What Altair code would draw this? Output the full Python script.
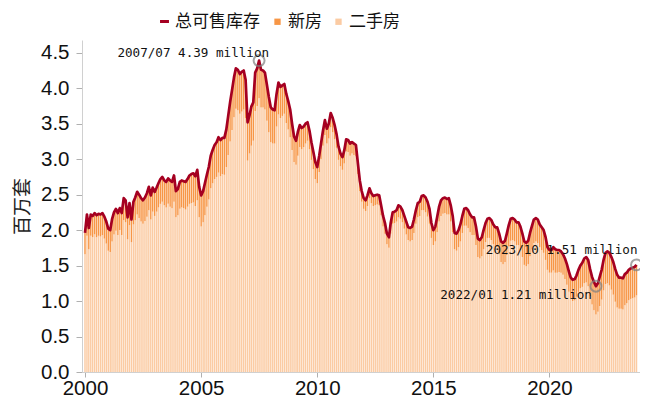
import altair as alt
import pandas as pd

# ---- data (millions of units), monthly 2000/01 - 2023/10 ----
total_by_year = {
    2000: [1.96, 2.22, 2.03, 2.22, 2.20, 2.24, 2.21, 2.23, 2.22, 2.24, 2.19, 2.12],
    2001: [2.02, 2.00, 2.15, 2.25, 2.30, 2.24, 2.31, 2.24, 2.45, 2.42, 2.18, 2.38],
    2002: [2.15, 2.40, 2.46, 2.54, 2.50, 2.45, 2.42, 2.46, 2.52, 2.61, 2.49, 2.60],
    2003: [2.54, 2.60, 2.66, 2.72, 2.75, 2.70, 2.68, 2.73, 2.70, 2.68, 2.77, 2.55],
    2004: [2.58, 2.68, 2.70, 2.69, 2.68, 2.72, 2.77, 2.79, 2.80, 2.76, 2.85, 2.61],
    2005: [2.49, 2.55, 2.66, 2.78, 2.89, 3.05, 3.13, 3.20, 3.24, 3.31, 3.27, 3.30],
    2006: [3.30, 3.42, 3.60, 3.80, 3.97, 4.15, 4.28, 4.26, 4.20, 4.23, 4.25, 4.12],
    2007: [3.52, 3.62, 3.74, 3.80, 4.22, 4.28, 4.39, 4.26, 4.25, 4.22, 4.05, 3.88],
    2008: [3.73, 3.70, 3.69, 3.92, 4.08, 4.02, 4.04, 4.06, 3.92, 3.82, 3.70, 3.50],
    2009: [3.32, 3.26, 3.38, 3.48, 3.44, 3.46, 3.50, 3.52, 3.40, 3.24, 3.10, 2.96],
    2010: [2.89, 3.05, 3.22, 3.40, 3.55, 3.43, 3.50, 3.65, 3.58, 3.48, 3.35, 3.18],
    2011: [3.08, 3.03, 3.12, 3.28, 3.27, 3.22, 3.24, 3.22, 3.20, 2.95, 2.70, 2.55],
    2012: [2.45, 2.42, 2.49, 2.59, 2.52, 2.48, 2.49, 2.50, 2.49, 2.35, 2.20, 2.10],
    2013: [1.95, 1.90, 2.10, 2.25, 2.26, 2.28, 2.35, 2.33, 2.28, 2.20, 2.12, 2.04],
    2014: [2.03, 2.05, 2.15, 2.28, 2.38, 2.40, 2.48, 2.49, 2.46, 2.40, 2.30, 2.10],
    2015: [2.00, 2.05, 2.18, 2.33, 2.42, 2.45, 2.46, 2.44, 2.45, 2.35, 2.20, 1.96],
    2016: [1.95, 2.00, 2.08, 2.20, 2.30, 2.31, 2.28, 2.22, 2.18, 2.18, 2.05, 1.88],
    2017: [1.86, 1.90, 2.00, 2.10, 2.16, 2.17, 2.14, 2.08, 2.04, 2.04, 1.95, 1.84],
    2018: [1.82, 1.85, 1.95, 2.07, 2.16, 2.17, 2.15, 2.11, 2.11, 2.05, 1.95, 1.84],
    2019: [1.82, 1.85, 1.96, 2.06, 2.15, 2.17, 2.15, 2.08, 2.04, 2.00, 1.90, 1.76],
    2020: [1.72, 1.72, 1.76, 1.73, 1.72, 1.72, 1.70, 1.66, 1.60, 1.52, 1.42, 1.33],
    2021: [1.30, 1.31, 1.36, 1.44, 1.50, 1.54, 1.60, 1.62, 1.58, 1.45, 1.34, 1.27],
    2022: [1.21, 1.25, 1.34, 1.44, 1.58, 1.68, 1.70, 1.68, 1.62, 1.55, 1.45, 1.37],
    2023: [1.33, 1.33, 1.32, 1.38, 1.40, 1.44, 1.46, 1.47, 1.48, 1.51],
}

new_by_year = {
    2000: [0.30, 0.30, 0.30, 0.30, 0.30, 0.30, 0.31, 0.31, 0.31, 0.31, 0.31, 0.31],
    2001: [0.31, 0.31, 0.31, 0.31, 0.31, 0.31, 0.31, 0.31, 0.31, 0.31, 0.31, 0.31],
    2002: [0.32, 0.32, 0.32, 0.32, 0.33, 0.33, 0.33, 0.33, 0.33, 0.33, 0.34, 0.34],
    2003: [0.34, 0.34, 0.34, 0.35, 0.35, 0.35, 0.36, 0.36, 0.37, 0.37, 0.37, 0.37],
    2004: [0.37, 0.38, 0.38, 0.38, 0.39, 0.39, 0.40, 0.41, 0.41, 0.42, 0.43, 0.43],
    2005: [0.44, 0.44, 0.45, 0.45, 0.46, 0.46, 0.47, 0.48, 0.49, 0.50, 0.51, 0.51],
    2006: [0.52, 0.53, 0.54, 0.55, 0.56, 0.56, 0.57, 0.57, 0.56, 0.56, 0.55, 0.54],
    2007: [0.54, 0.54, 0.55, 0.54, 0.54, 0.53, 0.53, 0.53, 0.52, 0.52, 0.51, 0.50],
    2008: [0.49, 0.48, 0.47, 0.46, 0.45, 0.44, 0.43, 0.42, 0.41, 0.40, 0.39, 0.37],
    2009: [0.36, 0.34, 0.33, 0.31, 0.30, 0.29, 0.28, 0.26, 0.26, 0.25, 0.24, 0.24],
    2010: [0.23, 0.23, 0.22, 0.21, 0.21, 0.21, 0.21, 0.20, 0.20, 0.20, 0.19, 0.19],
    2011: [0.18, 0.18, 0.18, 0.17, 0.17, 0.17, 0.16, 0.16, 0.16, 0.16, 0.15, 0.15],
    2012: [0.15, 0.15, 0.15, 0.14, 0.14, 0.14, 0.14, 0.14, 0.14, 0.14, 0.15, 0.15],
    2013: [0.15, 0.15, 0.15, 0.16, 0.16, 0.16, 0.17, 0.17, 0.17, 0.18, 0.18, 0.18],
    2014: [0.19, 0.19, 0.19, 0.19, 0.20, 0.20, 0.20, 0.21, 0.21, 0.21, 0.21, 0.21],
    2015: [0.21, 0.21, 0.21, 0.21, 0.22, 0.22, 0.22, 0.22, 0.23, 0.23, 0.23, 0.23],
    2016: [0.24, 0.24, 0.24, 0.24, 0.24, 0.25, 0.25, 0.25, 0.25, 0.25, 0.26, 0.26],
    2017: [0.26, 0.27, 0.27, 0.27, 0.27, 0.28, 0.28, 0.28, 0.28, 0.28, 0.29, 0.29],
    2018: [0.30, 0.30, 0.30, 0.30, 0.31, 0.31, 0.31, 0.32, 0.32, 0.33, 0.33, 0.33],
    2019: [0.33, 0.33, 0.33, 0.33, 0.33, 0.33, 0.33, 0.32, 0.32, 0.32, 0.32, 0.32],
    2020: [0.32, 0.32, 0.33, 0.33, 0.32, 0.31, 0.30, 0.29, 0.29, 0.29, 0.29, 0.29],
    2021: [0.30, 0.30, 0.30, 0.31, 0.32, 0.34, 0.35, 0.36, 0.37, 0.38, 0.39, 0.40],
    2022: [0.40, 0.40, 0.41, 0.42, 0.43, 0.44, 0.45, 0.46, 0.46, 0.46, 0.46, 0.46],
    2023: [0.44, 0.44, 0.44, 0.44, 0.43, 0.43, 0.43, 0.43, 0.43, 0.43],
}

ann_dates = ["2007-07-01", "2022-01-01", "2023-10-01"]
ann_values = [4.39, 1.21, 1.51]
ann_labels = ["2007/07 4.39 million", "2022/01 1.21 million", "2023/10 1.51 million"]

series_line = "总可售库存"
series_new = "新房"
series_old = "二手房"

# ---- build tables ----
total = [v for y in sorted(total_by_year) for v in total_by_year[y]]
new = [v for y in sorted(new_by_year) for v in new_by_year[y]]
dates = pd.date_range("2000-01-01", periods=len(total), freq="MS")

line_df = pd.DataFrame({"date": dates, "value": total, "series": series_line})
bars_df = pd.concat([
    pd.DataFrame({"date": dates, "value": [t - n for t, n in zip(total, new)],
                  "series": series_old, "ord": 0}),
    pd.DataFrame({"date": dates, "value": new, "series": series_new, "ord": 1}),
])
ann_df = pd.DataFrame({"date": pd.to_datetime(ann_dates), "value": ann_values,
                       "label": ann_labels})

x_scale = alt.Scale(domain=[alt.DateTime(year=1999, month=11, date=15),
                            alt.DateTime(year=2023, month=11, date=25)], padding=0)
y_scale = alt.Scale(domain=[0, 4.68], nice=False, padding=0)

x_axis = alt.Axis(
    title=None, format="%Y", grid=False,
    values=[alt.DateTime(year=y, month=1, date=1) for y in [2000, 2005, 2010, 2015, 2020]],
    labelFontSize=20.5, labelFont="Liberation Sans", labelColor="#111",
    domainColor="#d0d0d0", tickColor="#b0b0b0", tickSize=5, labelPadding=1,
    labelOverlap=False,
)
y_axis = alt.Axis(
    title="百万套", format=".1f", values=[i * 0.5 for i in range(10)], grid=False,
    labelFontSize=20.5, labelFont="Liberation Sans", labelColor="#111",
    domainColor="#d0d0d0", tickColor="#b0b0b0", tickSize=6, labelPadding=7,
    labelOverlap=False,
    titleFont="Noto Sans CJK SC", titleFontSize=19, titleFontWeight="normal",
    titleColor="#222", titlePadding=8,
)

x_enc = alt.X("date:T", scale=x_scale, axis=x_axis)
y_enc = alt.Y("value:Q", scale=y_scale, axis=y_axis)

bars = alt.Chart(bars_df).mark_bar(size=1.45).encode(
    x=x_enc,
    y=alt.Y("value:Q", stack="zero", scale=y_scale, axis=y_axis),
    fill=alt.Fill("series:N",
                  scale=alt.Scale(domain=[series_new, series_old],
                                  range=["#F79646", "#FBCBA3"]),
                  legend=alt.Legend(title=None, orient="none", direction="horizontal",
                                    legendX=187, legendY=-27, symbolType="square",
                                    symbolSize=40, symbolStrokeWidth=0,
                                    labelFont="Noto Sans CJK SC", labelFontSize=17,
                                    labelColor="#111", columnPadding=8,
                                    labelOffset=2)),
    order=alt.Order("ord:Q"),
)

line = alt.Chart(line_df).mark_line(strokeWidth=2.7, strokeJoin="round").encode(
    x=x_enc,
    y=y_enc,
    stroke=alt.Stroke("series:N",
                      scale=alt.Scale(domain=[series_line], range=["#A50021"]),
                      legend=alt.Legend(title=None, orient="none", legendX=74,
                                        legendY=-27, symbolType="stroke",
                                        symbolSize=80, symbolStrokeWidth=3,
                                        labelFont="Noto Sans CJK SC", labelFontSize=17,
                                        labelColor="#111", labelOffset=2)),
)

circles = alt.Chart(ann_df).mark_point(shape="circle", filled=False, size=120,
                                       stroke="#808080", strokeWidth=2).encode(
    x=x_enc, y=y_enc,
)

offsets = [(10, -8), (-4, 9), (1, -15)]
texts = []
for lbl, (dx, dy) in zip(ann_labels, offsets):
    texts.append(
        alt.Chart(ann_df).transform_filter(alt.datum.label == lbl)
        .mark_text(align="right", baseline="middle", dx=dx, dy=dy,
                   font="DejaVu Sans Mono", fontSize=12.6, color="#111")
        .encode(x=x_enc, y=y_enc, text="label:N")
    )

chart = alt.layer(bars, line, circles, *texts).properties(
    width=558, height=332,
    autosize=alt.AutoSizeParams(type="none"),
    padding={"left": 74, "top": 32, "right": 0, "bottom": 30},
).configure_view(stroke=None).resolve_scale(fill="independent", stroke="independent")

chart.save("out.html", embed_options={"renderer": "svg", "actions": False})
